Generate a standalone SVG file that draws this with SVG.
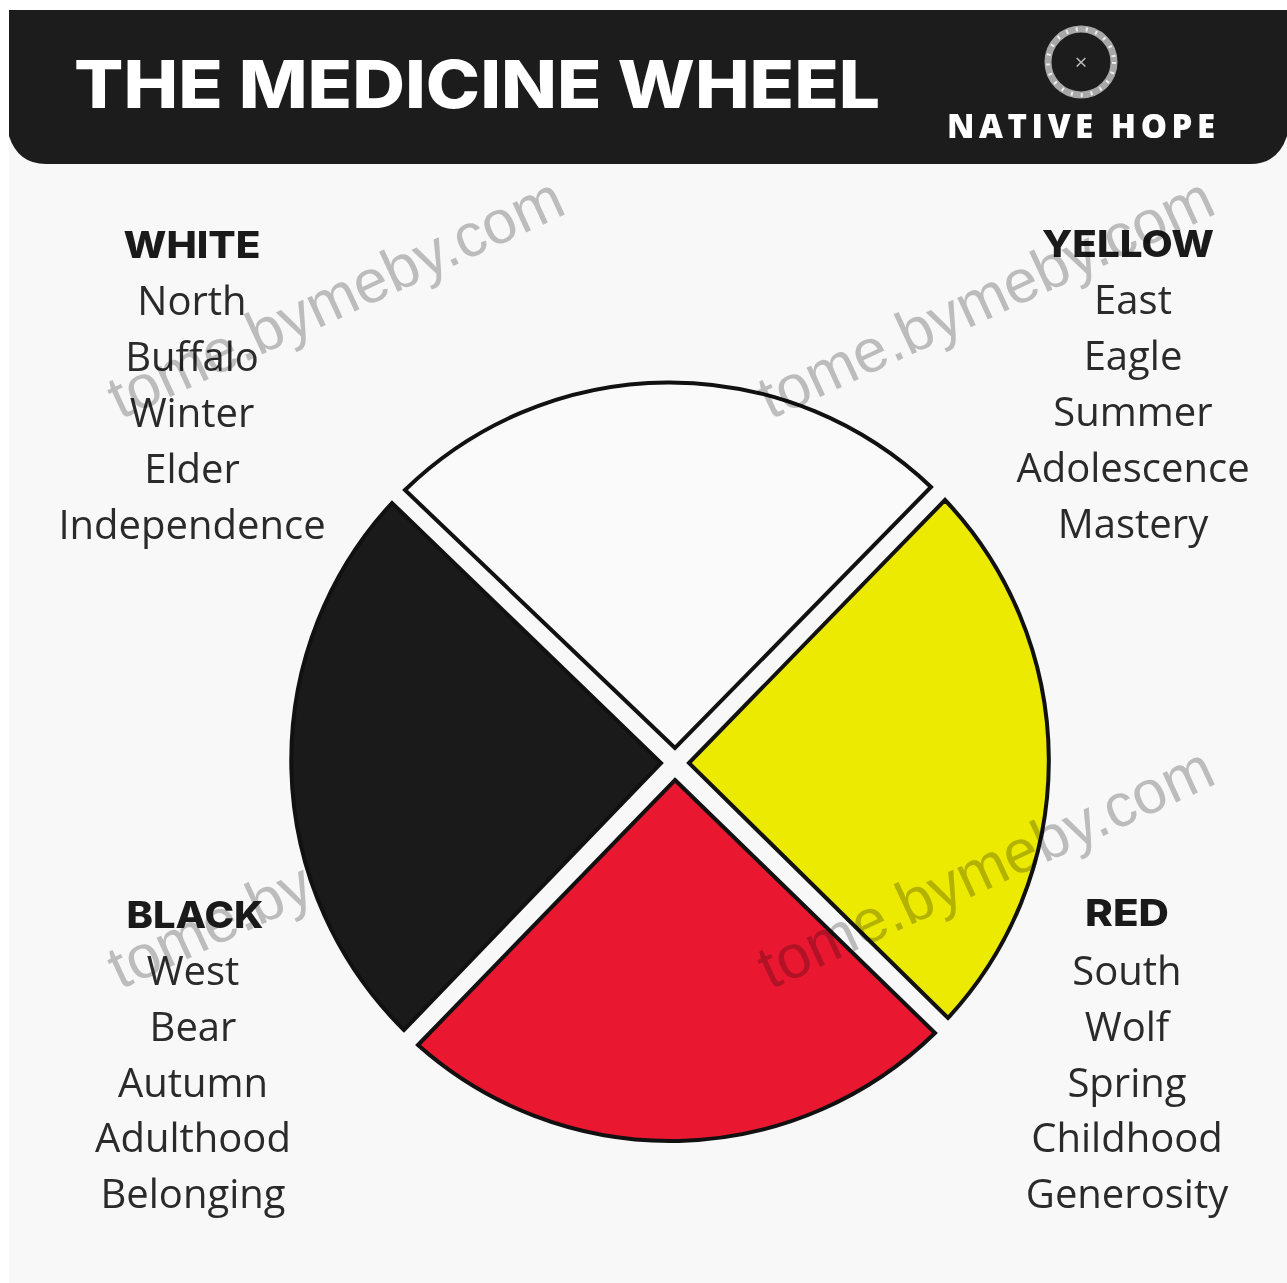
<svg xmlns="http://www.w3.org/2000/svg" width="1287" height="1283" viewBox="0 0 1287 1283">
<defs>
<style>
text{font-family:"Open Sans","Noto Sans","DejaVu Sans",sans-serif;text-anchor:middle;fill:#2a2a2a}
.h{font-family:Inter,"Open Sans",sans-serif;font-weight:800;font-size:37px;fill:#1a1a1a}
.t{font-size:40px}
.s{stroke:#111;stroke-width:4;stroke-linejoin:miter}
.wm{font-family:"Liberation Sans",Arial,sans-serif;font-size:61px;fill:#a8a8a8;opacity:.7;mix-blend-mode:multiply;text-anchor:start}
</style>
</defs>
<rect width="1287" height="1283" fill="#fff"/>
<rect x="9" y="10" width="1278" height="1273" fill="#f8f8f8"/>
<g id="header">
<path d="M9 10H1287V136Q1278 164 1250 164H46Q18 164 9 136Z" fill="#1c1c1c"/>
<text x="477" y="108" font-size="66" font-weight="800" textLength="806" lengthAdjust="spacingAndGlyphs" style="font-family:Inter,'Open Sans',sans-serif;fill:#fff">THE MEDICINE WHEEL</text>
</g>
<g id="logo">
<circle cx="1081" cy="62" r="33" fill="none" stroke="#a8a8a8" stroke-width="7"/>
<circle cx="1081" cy="62" r="33" fill="none" stroke="#ececec" stroke-width="4" stroke-dasharray="2 8"/>
<text x="1081" y="70" font-size="22" style="fill:#bbb">×</text>
<text x="1081" y="138" font-size="33" font-weight="800" textLength="268" lengthAdjust="spacing" style="fill:#fff">NATIVE HOPE</text>
</g>
<g id="watermark-black">
<text class="wm" transform="translate(120 990) rotate(-24.8)">tome.bymeby.com</text>
</g>
<g id="wheel">
<path id="sector-white" class="s" fill="#fafafa" d="M675 748L405 490A379 379 0 0 1 931 487Z"/>
<path id="sector-yellow" class="s" fill="#ecea00" d="M689 763L945 500A379 379 0 0 1 948 1018Z"/>
<path id="sector-red" class="s" fill="#ea1730" d="M675 780L935 1033A379 379 0 0 1 418 1045Z"/>
<path id="sector-black" class="s" fill="#1a1a1a" d="M661 763L404 1030A379 379 0 0 1 392 503Z"/>
</g>
<g id="white-label">
<text class="h" x="192" y="258" textLength="137" lengthAdjust="spacingAndGlyphs">WHITE</text>
<text class="t" x="192" y="315">North</text>
<text class="t" x="192" y="371">Buffalo</text>
<text class="t" x="192" y="427">Winter</text>
<text class="t" x="192" y="483">Elder</text>
<text class="t" x="192" y="539">Independence</text>
</g>
<g id="yellow-label">
<text class="h" x="1128" y="257" textLength="172" lengthAdjust="spacingAndGlyphs">YELLOW</text>
<text class="t" x="1133" y="314">East</text>
<text class="t" x="1133" y="370">Eagle</text>
<text class="t" x="1133" y="426">Summer</text>
<text class="t" x="1133" y="482">Adolescence</text>
<text class="t" x="1133" y="538">Mastery</text>
</g>
<g id="black-label">
<text class="h" x="195" y="928" textLength="137" lengthAdjust="spacingAndGlyphs">BLACK</text>
<text class="t" x="193" y="985">West</text>
<text class="t" x="193" y="1041">Bear</text>
<text class="t" x="193" y="1097">Autumn</text>
<text class="t" x="193" y="1152">Adulthood</text>
<text class="t" x="193" y="1208">Belonging</text>
</g>
<g id="red-label">
<text class="h" x="1127" y="926" textLength="84" lengthAdjust="spacingAndGlyphs">RED</text>
<text class="t" x="1127" y="985">South</text>
<text class="t" x="1127" y="1041">Wolf</text>
<text class="t" x="1127" y="1097">Spring</text>
<text class="t" x="1127" y="1152">Childhood</text>
<text class="t" x="1127" y="1208">Generosity</text>
</g>
<g id="watermarks">
<text class="wm" transform="translate(120 420) rotate(-24.8)">tome.bymeby.com</text>
<text class="wm" transform="translate(770 420) rotate(-24.8)">tome.bymeby.com</text>
<text class="wm" transform="translate(770 990) rotate(-24.8)">tome.bymeby.com</text>
</g>
</svg>
